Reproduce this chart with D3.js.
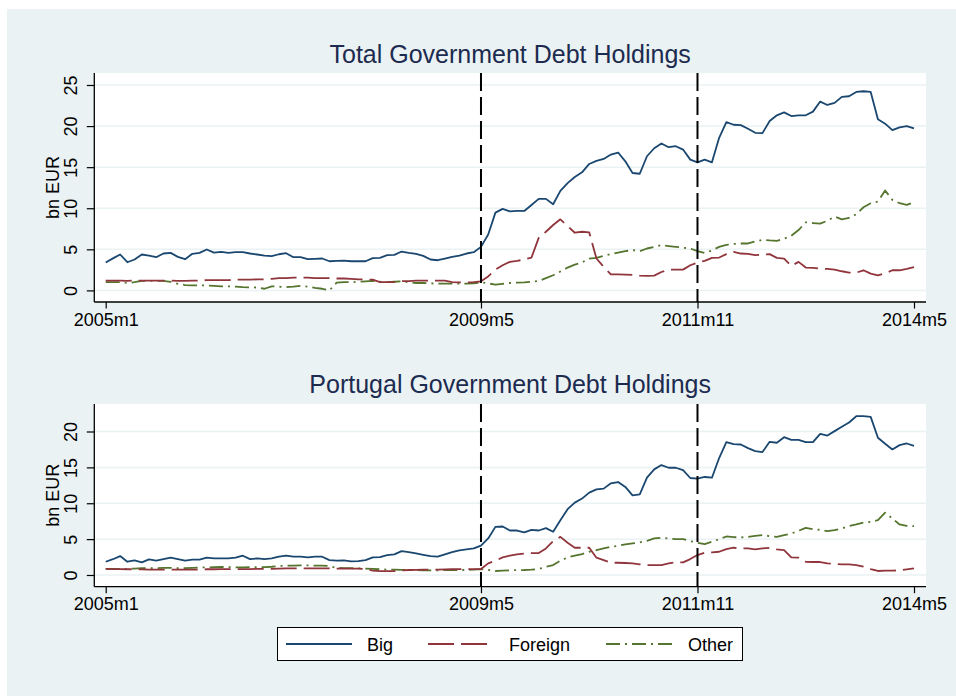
<!DOCTYPE html>
<html><head><meta charset="utf-8">
<script src="https://cdn.jsdelivr.net/npm/d3@7"></script>
<style>
body{margin:0;background:#fff}
svg{display:block}
text{font-family:"Liberation Sans",Arial,Helvetica,sans-serif}
</style>
</head><body>
<svg id="chart" width="956" height="696"></svg>
<script>
// ---- data ----
const startLabel = "2005m1";
const tickIdx = [0, 52, 82, 112];
const tickLabels = ["2005m1", "2009m5", "2011m11", "2014m5"];
const eventIdx = [52, 82];
const seriesNames = ["Big", "Foreign", "Other"];

const totalYTicks = [0, 5, 10, 15, 20, 25];
const portYTicks = [0, 5, 10, 15, 20];

const totalBig = [3.39,3.9,4.37,3.43,3.76,4.37,4.24,4.04,4.49,4.57,
 4.08,3.8,4.45,4.57,4.98,4.6,4.7,4.57,4.65,4.65,
 4.49,4.37,4.24,4.16,4.4,4.53,4.04,4.04,3.8,3.84,
 3.88,3.55,3.59,3.63,3.55,3.55,3.55,3.92,3.96,4.29,
 4.33,4.73,4.57,4.45,4.2,3.76,3.67,3.88,4.08,4.24,
 4.49,4.65,5.3,6.8,9.47,9.92,9.63,9.67,9.67,10.4,
 11.14,11.14,10.49,12.12,13.06,13.8,14.37,15.39,15.76,16.0,
 16.53,16.78,15.71,14.29,14.2,16.33,17.3,17.88,17.43,17.55,
 17.14,15.92,15.59,15.92,15.59,18.57,20.49,20.16,20.12,19.67,
 19.18,19.14,20.61,21.31,21.67,21.22,21.31,21.31,21.76,22.98,
 22.57,22.82,23.55,23.63,24.16,24.24,24.16,20.82,20.29,19.51,
 19.84,20.0,19.71];
const totalForeign = [1.2,1.2,1.2,1.15,1.2,1.2,1.2,1.2,1.2,1.2,
 1.15,1.15,1.2,1.2,1.25,1.25,1.25,1.25,1.3,1.3,
 1.3,1.35,1.35,1.4,1.5,1.5,1.55,1.55,1.55,1.5,
 1.5,1.5,1.45,1.45,1.4,1.35,1.35,1.3,1.0,1.0,
 1.0,1.14,1.14,1.18,1.18,1.18,1.18,1.18,1.0,0.98,
 0.98,1.0,1.1,1.7,2.53,3.06,3.47,3.59,3.76,4.0,
 6.4,7.14,7.96,8.65,7.84,7.02,7.14,7.06,3.88,2.86,
 1.96,1.96,1.92,1.88,1.8,1.76,1.8,2.24,2.53,2.53,
 2.53,3.06,3.39,3.59,3.96,4.0,4.41,4.69,4.49,4.45,
 4.29,4.37,4.41,3.96,3.88,2.98,3.47,2.78,2.73,2.65,
 2.61,2.53,2.33,2.16,2.16,2.45,2.04,1.84,2.08,2.45,
 2.45,2.61,2.82];
const totalOther = [1.0,1.0,1.0,0.9,1.0,1.15,1.15,1.15,1.15,1.05,
 0.8,0.65,0.6,0.6,0.6,0.55,0.5,0.5,0.45,0.4,
 0.37,0.35,0.2,0.5,0.45,0.4,0.45,0.55,0.45,0.3,
 0.2,0.0,0.95,1.0,1.0,1.05,1.1,1.15,1.05,1.0,
 1.05,1.1,1.0,0.9,0.9,0.85,0.82,0.82,0.82,0.82,
 0.82,0.85,0.98,0.85,0.7,0.8,0.9,0.95,0.98,1.05,
 1.14,1.5,1.84,2.3,2.78,3.14,3.39,3.88,3.96,4.2,
 4.41,4.6,4.78,4.9,4.78,5.1,5.3,5.51,5.4,5.3,
 5.2,5.1,4.78,4.57,4.86,5.3,5.55,5.65,5.71,5.71,
 5.95,6.16,6.08,6.04,6.3,6.65,7.35,8.29,8.2,8.12,
 8.49,8.98,8.65,8.82,9.27,10.12,10.61,10.82,12.16,11.02,
 10.61,10.41,10.73];

const portBig = [1.85,2.2,2.64,1.85,2.04,1.76,2.18,1.99,2.22,2.41,
 2.22,1.99,2.13,2.13,2.41,2.31,2.31,2.31,2.41,2.69,
 2.22,2.31,2.22,2.31,2.55,2.69,2.55,2.55,2.45,2.55,
 2.55,2.08,1.99,2.04,1.9,1.94,2.08,2.45,2.5,2.78,
 2.87,3.33,3.19,3.0,2.82,2.64,2.55,2.87,3.19,3.43,
 3.56,3.7,4.1,5.1,6.71,6.76,6.2,6.2,5.93,6.3,
 6.2,6.53,6.02,7.64,9.17,10.09,10.65,11.48,11.94,12.04,
 12.78,12.96,12.27,11.11,11.25,13.56,14.72,15.32,14.95,14.95,
 14.63,13.52,13.43,13.66,13.56,16.3,18.52,18.24,18.19,17.69,
 17.27,17.13,18.56,18.43,19.21,18.84,18.84,18.52,18.52,19.68,
 19.44,20.05,20.65,21.25,22.13,22.13,22.04,19.12,18.29,17.5,
 18.1,18.33,18.0];
const portForeign = [0.85,0.83,0.83,0.8,0.8,0.78,0.75,0.75,0.75,0.75,
 0.75,0.75,0.75,0.75,0.8,0.8,0.82,0.83,0.83,0.83,
 0.83,0.85,0.85,0.85,0.9,0.92,0.93,0.93,0.93,0.92,
 0.92,0.92,0.9,0.9,0.9,0.88,0.85,0.6,0.55,0.55,
 0.55,0.65,0.7,0.72,0.74,0.74,0.75,0.78,0.8,0.82,
 0.83,0.83,0.83,1.62,2.0,2.45,2.69,2.87,3.0,3.06,
 3.06,3.7,4.72,5.32,4.49,3.8,3.8,3.8,2.41,2.08,
 1.71,1.71,1.67,1.62,1.48,1.39,1.39,1.39,1.62,1.76,
 1.76,2.22,2.78,3.1,3.15,3.24,3.61,3.8,3.7,3.7,
 3.56,3.7,3.8,3.56,3.47,2.45,2.41,1.85,1.81,1.81,
 1.62,1.53,1.48,1.48,1.39,1.16,0.83,0.56,0.6,0.6,
 0.65,0.79,0.93];
const portOther = [0.85,0.85,0.85,0.85,0.9,0.95,0.95,0.95,1.0,1.0,
 0.95,0.95,1.0,1.05,1.05,1.1,1.12,1.1,1.05,1.05,
 1.1,1.1,1.1,1.15,1.25,1.3,1.3,1.35,1.35,1.3,
 1.3,1.25,1.0,0.95,0.95,0.92,0.9,0.85,0.8,0.75,
 0.75,0.72,0.7,0.68,0.65,0.65,0.66,0.68,0.7,0.7,
 0.7,0.75,0.83,0.7,0.56,0.6,0.65,0.68,0.7,0.75,
 0.83,1.16,1.39,2.0,2.45,2.69,2.92,3.24,3.47,3.7,
 3.94,4.07,4.26,4.4,4.54,4.77,5.09,5.19,5.09,5.0,
 5.0,4.72,4.49,4.3,4.63,5.0,5.37,5.28,5.23,5.32,
 5.46,5.56,5.42,5.32,5.56,5.79,6.16,6.57,6.39,6.3,
 6.11,6.25,6.48,6.81,7.04,7.31,7.41,7.64,8.7,7.87,
 7.04,6.85,6.81];

// ---- styles ----
const colors = {Big:"#1a476f", Foreign:"#90353b", Other:"#55752f"};
const dashes = {Big:null, Foreign:"26,7", Other:"14,5,2,5"};
const bg = "#eaf2f3";
const font = '"Liberation Sans",Arial,Helvetica,sans-serif';

const svg = d3.select("#chart");
svg.append("rect").attr("x",7).attr("y",9).attr("width",949).attr("height",687).attr("fill",bg);

const panels = [
  {title:"Total Government Debt Holdings", big:totalBig, foreign:totalForeign, other:totalOther,
   yTicks:totalYTicks, yDom:[0,25], yRange:[290.4,85], top:73, axisY:302, titleY:63, tickLabelY:326},
  {title:"Portugal Government Debt Holdings", big:portBig, foreign:portForeign, other:portOther,
   yTicks:portYTicks, yDom:[0,20], yRange:[575,431.5], top:404, axisY:586.7, titleY:393, tickLabelY:610.5}
];

const plotLeft = 94.3, plotRight = 926;
const x = d3.scaleLinear().domain([0,112]).range([105.7,914]);

panels.forEach(p => {
  const y = d3.scaleLinear().domain(p.yDom).range(p.yRange);
  const g = svg.append("g");
  // plot region
  g.append("rect").attr("x",plotLeft).attr("y",p.top).attr("width",plotRight-plotLeft)
    .attr("height",p.axisY-p.top).attr("fill","#fff");
  // gridlines
  g.selectAll("line.grid").data(p.yTicks).join("line").attr("class","grid")
    .attr("x1",plotLeft).attr("x2",plotRight).attr("y1",d=>y(d)).attr("y2",d=>y(d))
    .attr("stroke",bg).attr("stroke-width",1.5);
  // title
  g.append("text").attr("x",(plotLeft+plotRight)/2).attr("y",p.titleY).attr("text-anchor","middle")
    .attr("font-size",25).attr("fill","#1c2b4f").text(p.title);
  // series
  const line = d3.line().x((d,i)=>x(i)).y(d=>y(d));
  [["Other",p.other],["Foreign",p.foreign],["Big",p.big]].forEach(([name,vals])=>{
    g.append("path").datum(vals).attr("d",line).attr("fill","none")
      .attr("stroke",colors[name]).attr("stroke-width",1.8)
      .attr("stroke-linejoin","round")
      .attr("stroke-dasharray",dashes[name]);
  });
  // event lines
  g.selectAll("line.ev").data(eventIdx).join("line").attr("class","ev")
    .attr("x1",d=>x(d)).attr("x2",d=>x(d)).attr("y1",p.top).attr("y2",p.axisY)
    .attr("stroke","#000").attr("stroke-width",2).attr("stroke-dasharray","18,6");
  // y axis
  const yAxis = d3.axisLeft(y).tickValues(p.yTicks).tickSize(7.5).tickFormat(d3.format("d"));
  const ya = g.append("g").attr("transform",`translate(${plotLeft},0)`).call(yAxis);
  ya.select(".domain").attr("d",`M0,${p.top}V${p.axisY}`).attr("stroke","#000").attr("stroke-width",1.3);
  ya.selectAll(".tick line").attr("stroke","#000").attr("stroke-width",1.2);
  ya.selectAll(".tick text").attr("font-size",18).attr("font-family",font).attr("fill","#000")
    .attr("text-anchor","middle").attr("dy",null).attr("x",null)
    .attr("transform","translate(-17,0) rotate(-90)");
  // y axis title
  g.append("text").attr("transform",`translate(59,${(p.top+p.axisY)/2}) rotate(-90)`)
    .attr("text-anchor","middle").attr("font-size",18).attr("fill","#000").text("bn EUR");
  // x axis
  const xAxis = d3.axisBottom(x).tickValues(tickIdx).tickSize(6.5).tickFormat((d,i)=>tickLabels[i]);
  const xa = g.append("g").attr("transform",`translate(0,${p.axisY})`).call(xAxis);
  xa.select(".domain").attr("d",`M${plotLeft},0H${plotRight}`).attr("stroke","#000").attr("stroke-width",1.3);
  xa.selectAll(".tick line").attr("stroke","#000").attr("stroke-width",1.2);
  xa.selectAll(".tick text").attr("font-size",18).attr("font-family",font).attr("fill","#000")
    .attr("y",p.tickLabelY-p.axisY).attr("dy",null);
});

// legend
const lg = svg.append("g");
lg.append("rect").attr("x",277.5).attr("y",627.5).attr("width",465).attr("height",33)
  .attr("fill","#fff").attr("stroke","#000").attr("stroke-width",1);
const legendItems = [
  {name:"Big", x1:286, x2:352, tx:367},
  {name:"Foreign", x1:428, x2:490, tx:509},
  {name:"Other", x1:606, x2:673, tx:688}
];
legendItems.forEach(it=>{
  lg.append("line").attr("x1",it.x1).attr("x2",it.x2).attr("y1",644).attr("y2",644)
    .attr("stroke",colors[it.name]).attr("stroke-width",1.8).attr("stroke-dasharray",dashes[it.name]);
  lg.append("text").attr("x",it.tx).attr("y",650.5).attr("font-size",18).attr("fill","#000").text(it.name);
});
</script>
</body></html>
